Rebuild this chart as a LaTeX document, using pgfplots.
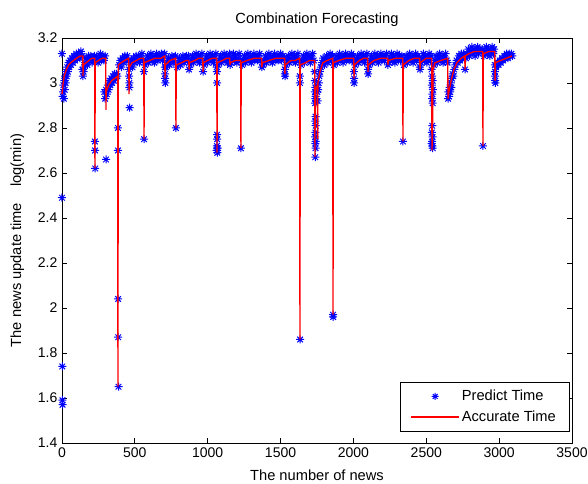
\documentclass[border=0pt]{standalone}
\usepackage{fontspec}
\setmainfont{Liberation Sans}
\usepackage{pgfplots}
\pgfplotsset{compat=1.18}
\definecolor{mlBlue}{RGB}{0,0,255}
\definecolor{mlRed}{RGB}{255,0,0}

% MATLAB style '*' marker (plus and cross)
\pgfdeclareplotmark{mstar}{%
  \pgfpathmoveto{\pgfqpoint{-\pgfplotmarksize}{0pt}}%
  \pgfpathlineto{\pgfqpoint{\pgfplotmarksize}{0pt}}%
  \pgfpathmoveto{\pgfqpoint{0pt}{-\pgfplotmarksize}}%
  \pgfpathlineto{\pgfqpoint{0pt}{\pgfplotmarksize}}%
  \pgfpathmoveto{\pgfqpoint{-0.7\pgfplotmarksize}{-0.7\pgfplotmarksize}}%
  \pgfpathlineto{\pgfqpoint{0.7\pgfplotmarksize}{0.7\pgfplotmarksize}}%
  \pgfpathmoveto{\pgfqpoint{-0.7\pgfplotmarksize}{0.7\pgfplotmarksize}}%
  \pgfpathlineto{\pgfqpoint{0.7\pgfplotmarksize}{-0.7\pgfplotmarksize}}%
  \pgfusepathqstroke}

\begin{document}
\begin{tikzpicture}
\begin{axis}[
    scale only axis,
    width=382.5pt,
    height=303.75pt,
    clip=false,
    clip marker paths=true,
    xmin=0, xmax=3500,
    ymin=1.4, ymax=3.2,
    xtick={0,500,1000,1500,2000,2500,3000,3500},
    ytick={1.4,1.6,1.8,2,2.2,2.4,2.6,2.8,3,3.2},
    scaled x ticks=false,
    tick align=inside,
    major tick length=3.75pt,
    axis line style={line width=0.6pt},
    every tick/.style={black,line width=0.6pt},
    /pgf/number format/assume math mode=true,
    /pgf/number format/1000 sep={},
    tick label style={font=\fontsize{10.5}{12}\selectfont},
    every axis title shift=0pt,
    title={Combination Forecasting},
    title style={font=\fontsize{11}{13}\selectfont,
        at={(axis description cs:0.5,1.044)}, anchor=center},
    xlabel={The number of news},
    xlabel style={font=\fontsize{11}{13}\selectfont,
        at={(axis description cs:0.5,-0.079)}, anchor=center},
    ylabel={The news update time\hspace{1.1em}log(min)},
    ylabel style={font=\fontsize{11}{13}\selectfont,
        at={(axis description cs:-0.0875,0.5)}, anchor=center},
    legend style={at={(0.995,0.028)}, anchor=south east, draw=black,
        fill=white, font=\fontsize{11}{13}\selectfont,
        row sep=2pt, inner xsep=8pt, inner ysep=4pt,
        cells={anchor=west}},
]
\addplot[only marks, color=mlBlue, draw=mlBlue, mark=mstar, mark size=3pt,
    mark options={line width=0.75pt},
    legend image code/.code={\draw[draw=mlBlue,line width=0.75pt]
        plot[mark=mstar, mark size=2.6pt] coordinates {(17.5pt,0pt)};}] coordinates {
(0,3.13) (0,2.49) (2,1.74) (3,1.59) (4,1.57) (5,2.94) (8,2.96) (10,2.99) (13,2.93)
(16,3.01) (19,2.97) (22,3.03) (25,3.00) (28,3.05) (32,3.03) (36,3.07) (40,3.05)
(45,3.09) (50,3.07) (56,3.10) (62,3.08) (68,3.11) (75,3.09) (82,3.12) (90,3.10)
(98,3.13) (106,3.11) (114,3.13) (122,3.11) (130,3.14) (138,3.12)
(140,3.06) (144,3.03) (148,3.05) (152,3.07)
(158,3.09) (166,3.11) (174,3.08) (182,3.12) (190,3.10) (198,3.12) (206,3.09) (214,3.11) (222,3.12)
(226,2.74) (227,2.70) (228,2.62)
(232,3.10) (240,3.12) (248,3.09) (256,3.11) (264,3.13) (272,3.10) (280,3.12) (288,3.10) (296,3.12)
(302,2.66)
(290,2.96) (296,2.93) (302,2.97) (308,2.95) (314,2.99) (320,2.97) (326,3.01) (332,2.99)
(338,3.02) (344,3.00) (350,3.03) (356,3.01) (362,3.04) (368,3.02) (374,3.04) (380,3.03)
(384,2.80) (384,2.70) (385,2.04) (386,1.87) (388,1.65)
(392,3.08) (400,3.10) (408,3.07) (416,3.11) (424,3.09) (432,3.12) (440,3.10) (448,3.12) (456,3.10)
(460,3.06) (461,3.03) (462,3.00) (463,2.98) (464,2.89)
(468,3.08) (476,3.10) (484,3.07) (492,3.11) (500,3.09) (508,3.12) (516,3.10) (524,3.12)
(532,3.09) (540,3.11) (548,3.13) (556,3.10)
(562,3.05) (563,2.75)
(570,3.08) (578,3.10) (586,3.12) (594,3.09) (602,3.11) (610,3.13) (618,3.10) (626,3.12)
(634,3.09) (642,3.11) (650,3.13) (658,3.10) (666,3.12) (674,3.11) (682,3.13) (690,3.10) (698,3.12) (704,3.13)
(706,3.07) (707,3.04) (708,3.02) (709,3.00)
(714,3.07) (722,3.09) (730,3.11) (738,3.08) (746,3.10) (754,3.12) (762,3.09) (770,3.11) (778,3.12)
(782,2.80)
(790,3.07) (798,3.09) (806,3.11) (814,3.08) (822,3.10) (830,3.12) (838,3.09) (846,3.11)
(854,3.12) (862,3.10) (868,3.12)
(872,3.06)
(880,3.08) (888,3.10) (896,3.12) (904,3.09) (912,3.11) (920,3.13) (928,3.10) (936,3.12)
(944,3.09) (952,3.11) (960,3.13)
(968,3.05)
(976,3.08) (984,3.10) (992,3.12) (1000,3.09) (1008,3.11) (1016,3.13) (1024,3.10) (1032,3.12)
(1040,3.09) (1048,3.11) (1056,3.13)
(1062,3.07) (1063,3.05) (1064,3.00) (1064,2.77) (1065,2.75) (1063,2.72) (1065,2.71)
(1064,2.70) (1066,2.69) (1062,2.70) (1068,2.71)
(1072,3.08) (1080,3.10) (1088,3.12) (1096,3.09) (1104,3.11) (1112,3.13) (1120,3.10) (1128,3.12)
(1136,3.09) (1144,3.11) (1150,3.13)
(1153,3.08)
(1160,3.09) (1168,3.11) (1176,3.13) (1184,3.10) (1192,3.12) (1200,3.09) (1208,3.11) (1216,3.13) (1224,3.10)
(1228,2.71)
(1236,3.08) (1244,3.10) (1252,3.12) (1260,3.09) (1268,3.11) (1276,3.13) (1284,3.10) (1292,3.12)
(1300,3.09) (1308,3.11) (1316,3.13) (1324,3.10) (1332,3.12) (1340,3.10) (1348,3.12) (1356,3.13) (1364,3.10)
(1372,3.07)
(1380,3.08) (1388,3.10) (1396,3.12) (1404,3.09) (1412,3.11) (1420,3.13) (1428,3.10) (1436,3.12)
(1444,3.09) (1452,3.11) (1460,3.13) (1468,3.10) (1476,3.12) (1484,3.10) (1492,3.12) (1500,3.13)
(1508,3.10) (1516,3.12) (1524,3.11)
(1529,3.06) (1530,3.04) (1531,3.03)
(1538,3.08) (1546,3.10) (1554,3.12) (1562,3.09) (1570,3.11) (1578,3.13) (1586,3.10) (1594,3.12)
(1602,3.09) (1610,3.11) (1618,3.13) (1626,3.10)
(1632,3.03) (1633,3.00) (1634,1.86)
(1640,3.08) (1648,3.10) (1656,3.12) (1664,3.09) (1672,3.11) (1680,3.13) (1688,3.10) (1696,3.12)
(1704,3.09) (1712,3.11) (1720,3.13) (1728,3.10)
(1734,3.05) (1736,3.01) (1738,2.98) (1736,2.96) (1740,2.94) (1738,2.93) (1737,2.91) (1740,2.85)
(1738,2.83) (1741,2.81) (1739,2.78) (1737,2.76) (1741,2.74) (1739,2.73) (1740,2.71) (1738,2.67)
(1750,2.99) (1752,2.96) (1754,2.92)
(1758,2.97) (1762,3.00) (1766,3.03) (1770,3.05) (1776,3.07) (1784,3.09) (1792,3.11) (1800,3.08)
(1808,3.10) (1816,3.12) (1824,3.09) (1832,3.11) (1840,3.13) (1848,3.10) (1856,3.12)
(1860,1.97) (1861,1.96)
(1866,3.08) (1874,3.10) (1882,3.12) (1890,3.09) (1898,3.11) (1906,3.13) (1914,3.10) (1922,3.12)
(1930,3.09) (1938,3.11) (1946,3.13) (1954,3.10) (1962,3.12) (1970,3.10) (1978,3.12) (1986,3.13)
(1994,3.10) (2000,3.12)
(2003,3.05) (2004,3.02) (2005,3.00)
(2012,3.08) (2020,3.10) (2028,3.12) (2036,3.09) (2044,3.11) (2052,3.13) (2060,3.10) (2068,3.12)
(2076,3.09) (2084,3.11) (2092,3.13)
(2100,3.06) (2101,3.04)
(2108,3.08) (2116,3.10) (2124,3.12) (2132,3.09) (2140,3.11) (2148,3.13) (2156,3.10) (2164,3.12)
(2172,3.09) (2180,3.11) (2188,3.13) (2196,3.10) (2204,3.12) (2212,3.10) (2220,3.12) (2228,3.13)
(2237,3.08)
(2244,3.09) (2252,3.11) (2260,3.13) (2268,3.10) (2276,3.12) (2284,3.09) (2292,3.11) (2300,3.13)
(2308,3.10) (2316,3.12) (2324,3.10) (2332,3.12)
(2340,2.74)
(2346,3.08) (2354,3.10) (2362,3.12) (2370,3.09) (2378,3.11) (2386,3.13) (2394,3.10) (2402,3.12)
(2410,3.09) (2418,3.11) (2426,3.13) (2434,3.10) (2442,3.12) (2450,3.11)
(2456,3.07) (2457,3.06)
(2464,3.09) (2472,3.11) (2480,3.13) (2488,3.10) (2496,3.12) (2504,3.09) (2512,3.11) (2520,3.13)
(2528,3.10) (2534,3.12)
(2536,3.06) (2540,3.03) (2544,3.01) (2538,2.99) (2546,2.97) (2542,2.95) (2540,2.93) (2544,2.91)
(2541,2.81) (2538,2.78) (2543,2.76) (2540,2.74) (2537,2.73) (2542,2.72) (2544,2.71)
(2552,3.08) (2560,3.10) (2568,3.12) (2576,3.09) (2584,3.11) (2592,3.13) (2600,3.10) (2608,3.12)
(2616,3.09) (2624,3.11) (2632,3.13) (2640,3.10) (2646,3.09)
(2650,2.93) (2652,2.96) (2656,2.94) (2660,2.98) (2664,2.96) (2668,3.00) (2672,2.98) (2676,3.02)
(2680,3.04) (2686,3.03) (2692,3.06) (2700,3.08) (2708,3.10) (2716,3.09) (2724,3.12) (2732,3.10)
(2740,3.13) (2748,3.11) (2756,3.13) (2762,3.12)
(2766,3.06)
(2772,3.11) (2780,3.13) (2788,3.15) (2796,3.12) (2804,3.14) (2812,3.16) (2820,3.13) (2828,3.15)
(2836,3.12) (2844,3.14) (2852,3.16) (2860,3.13) (2868,3.15) (2876,3.14) (2884,3.15)
(2889,2.72)
(2896,3.12) (2904,3.14) (2912,3.16) (2920,3.13) (2928,3.15) (2936,3.12) (2944,3.14) (2952,3.16)
(2960,3.13) (2966,3.15)
(2970,3.08) (2971,3.05) (2972,3.03) (2973,3.01) (2974,3.00)
(2980,3.07) (2988,3.09) (2996,3.08) (3004,3.10) (3012,3.09) (3020,3.11) (3028,3.10) (3036,3.12)
(3044,3.11) (3052,3.13) (3060,3.11) (3068,3.13) (3076,3.12) (3084,3.13) (3090,3.12)
};
\addlegendentry{Predict Time}
\addplot[color=mlRed, draw=mlRed, line width=1pt, mark=none,
    legend image code/.code={\fill[mlRed] (0pt,-0.5pt) rectangle (35pt,0.5pt);}] coordinates {
(0,2.95) (8,3.00) (15,3.03) (30,3.06) (45,3.08) (60,3.09) (80,3.10) (100,3.11) (125,3.12)
(143,3.12) (144,3.03) (146,3.08) (165,3.09) (185,3.10) (205,3.11) (225,3.11) (226,2.62)
(228,3.09) (250,3.10) (275,3.11) (300,3.11) (302,2.88) (303,2.96) (320,2.99) (340,3.01)
(360,3.02) (382,3.03) (384,1.65) (386,3.08) (405,3.09) (430,3.10) (458,3.11) (460,2.95)
(462,3.07) (480,3.09) (510,3.10) (540,3.11) (561,3.11) (563,2.75) (565,3.09) (600,3.10)
(640,3.11) (680,3.11) (705,3.12) (707,3.02) (709,3.08) (740,3.10) (780,3.11) (782,2.80)
(784,3.08) (820,3.09) (850,3.10) (870,3.10) (872,3.06) (874,3.09) (910,3.10) (940,3.11)
(966,3.11) (968,3.05) (970,3.09) (1000,3.10) (1030,3.11) (1062,3.11) (1064,2.69) (1066,3.09)
(1100,3.10) (1130,3.11) (1151,3.11) (1153,3.08) (1155,3.09) (1190,3.10) (1226,3.10) (1228,2.71)
(1230,3.09) (1270,3.10) (1320,3.11) (1370,3.11) (1372,3.07) (1374,3.09) (1420,3.10) (1470,3.11)
(1528,3.11) (1530,3.04) (1532,3.08) (1570,3.10) (1600,3.10) (1631,3.11) (1633,1.86) (1635,3.08)
(1670,3.09) (1700,3.10) (1734,3.10) (1736,2.67) (1738,2.97) (1752,2.99) (1754,2.75) (1756,3.00)
(1770,3.05) (1790,3.09) (1820,3.10) (1858,3.11) (1860,1.97) (1862,3.09) (1900,3.10) (1950,3.11)
(2002,3.11) (2004,3.02) (2006,3.08) (2040,3.10) (2070,3.11) (2098,3.11) (2100,3.05) (2102,3.08)
(2140,3.10) (2190,3.11) (2235,3.11) (2237,3.08) (2239,3.10) (2290,3.11) (2338,3.11) (2340,2.74)
(2342,3.08) (2380,3.10) (2420,3.11) (2455,3.11) (2457,3.06) (2459,3.09) (2500,3.11) (2537,3.11)
(2539,2.70) (2543,2.80) (2546,3.06) (2560,3.09) (2600,3.10) (2647,3.11) (2649,2.93) (2655,2.96)
(2670,3.01) (2690,3.06) (2710,3.09) (2740,3.11) (2764,3.12) (2766,3.06) (2768,3.12) (2790,3.13)
(2830,3.14) (2887,3.14) (2889,2.72) (2891,3.13) (2930,3.14) (2970,3.14) (2972,3.01) (2974,3.09)
(3010,3.10) (3050,3.11) (3088,3.12)
};
\addlegendentry{Accurate Time}
\end{axis}
\pgfresetboundingbox
\path ([xshift=-46.5pt,yshift=-30.75pt]current axis.south west)
    rectangle ([xshift=12pt,yshift=28.5pt]current axis.north east);
\end{tikzpicture}
\end{document}
